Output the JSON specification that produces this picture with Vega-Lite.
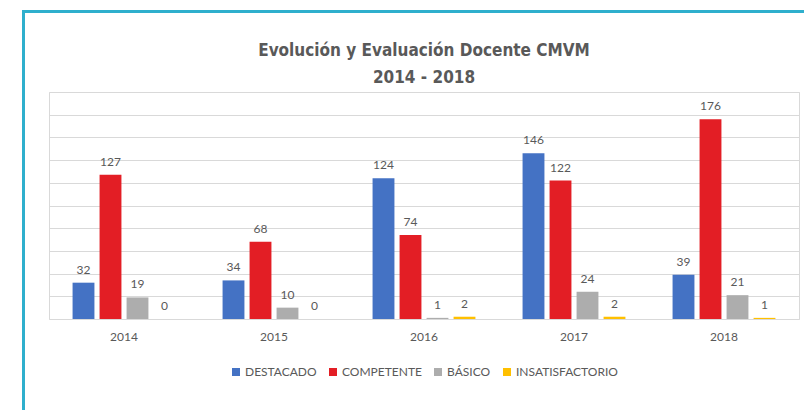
{
  "$schema": "https://vega.github.io/schema/vega-lite/v6.json",
  "padding": {"left": 22, "top": 10, "right": 0, "bottom": 0},
  "background": "white",
  "config": {
    "legend": {"layout": {"bottom": {"anchor": "middle"}}}
  },
  "spacing": 0,
  "resolve": {"scale": {"color": "independent"}, "legend": {"color": "independent"}},
  "vconcat": [
    {
      "width": 782,
      "height": 1,
      "data": {"values": []},
      "mark": "point",
      "encoding": {},
      "view": {"stroke": "#2FAFCD", "strokeWidth": 2}
    },
    {
      "spacing": 23,
      "resolve": {"scale": {"color": "independent"}, "legend": {"color": "independent"}},
      "hconcat": [
        {
          "width": 1,
          "height": 400,
          "data": {"values": []},
          "mark": "point",
          "encoding": {},
          "view": {"stroke": "#2FAFCD", "strokeWidth": 2}
        },
        {
          "spacing": 26,
          "resolve": {"scale": {"color": "independent"}, "legend": {"color": "independent"}},
          "vconcat": [
            {
              "width": 750,
              "height": 1,
              "data": {"values": []},
              "mark": "point",
              "encoding": {},
              "view": {"stroke": null}
            },
            {
              "width": 750,
              "height": 227,
              "view": {"stroke": "#D9D9D9", "strokeWidth": 1},
              "title": {
                "text": ["Evolución y Evaluación Docente CMVM", "2014 - 2018"],
                "font": "DejaVu Sans Condensed",
                "fontSize": 17,
                "fontWeight": "bold",
                "color": "#595959",
                "lineHeight": 27,
                "offset": 5,
                "anchor": "middle"
              },
              "data": {
                "values": [
                  {"year": "2014", "category": "DESTACADO", "value": 32},
                  {"year": "2014", "category": "COMPETENTE", "value": 127},
                  {"year": "2014", "category": "BÁSICO", "value": 19},
                  {"year": "2014", "category": "INSATISFACTORIO", "value": 0},
                  {"year": "2015", "category": "DESTACADO", "value": 34},
                  {"year": "2015", "category": "COMPETENTE", "value": 68},
                  {"year": "2015", "category": "BÁSICO", "value": 10},
                  {"year": "2015", "category": "INSATISFACTORIO", "value": 0},
                  {"year": "2016", "category": "DESTACADO", "value": 124},
                  {"year": "2016", "category": "COMPETENTE", "value": 74},
                  {"year": "2016", "category": "BÁSICO", "value": 1},
                  {"year": "2016", "category": "INSATISFACTORIO", "value": 2},
                  {"year": "2017", "category": "DESTACADO", "value": 146},
                  {"year": "2017", "category": "COMPETENTE", "value": 122},
                  {"year": "2017", "category": "BÁSICO", "value": 24},
                  {"year": "2017", "category": "INSATISFACTORIO", "value": 2},
                  {"year": "2018", "category": "DESTACADO", "value": 39},
                  {"year": "2018", "category": "COMPETENTE", "value": 176},
                  {"year": "2018", "category": "BÁSICO", "value": 21},
                  {"year": "2018", "category": "INSATISFACTORIO", "value": 1}
                ]
              },
              "encoding": {
                "x": {
                  "field": "year",
                  "type": "nominal",
                  "scale": {"paddingInner": 0.28, "paddingOuter": 0.14},
                  "axis": {
                    "title": null,
                    "labelAngle": 0,
                    "labelFont": "Lato",
                    "labelFontSize": 12,
                    "labelColor": "#595959",
                    "ticks": false,
                    "domain": false,
                    "labelPadding": 12
                  }
                },
                "xOffset": {
                  "field": "category",
                  "type": "nominal",
                  "sort": ["DESTACADO", "COMPETENTE", "BÁSICO", "INSATISFACTORIO"],
                  "scale": {"paddingInner": 0.19, "paddingOuter": 0.095}
                },
                "y": {
                  "field": "value",
                  "type": "quantitative",
                  "scale": {"domain": [0, 200], "nice": false},
                  "axis": {
                    "title": null,
                    "labels": false,
                    "ticks": false,
                    "domain": false,
                    "grid": true,
                    "gridColor": "#D9D9D9",
                    "gridWidth": 1,
                    "values": [0, 20, 40, 60, 80, 100, 120, 140, 160, 180, 200],
                    "minExtent": 0,
                    "maxExtent": 0
                  }
                }
              },
              "layer": [
                {
                  "mark": {"type": "bar"},
                  "encoding": {
                    "color": {
                      "field": "category",
                      "type": "nominal",
                      "sort": ["DESTACADO", "COMPETENTE", "BÁSICO", "INSATISFACTORIO"],
                      "scale": {
                        "domain": ["DESTACADO", "COMPETENTE", "BÁSICO", "INSATISFACTORIO"],
                        "range": ["#4472C4", "#E31E25", "#ADADAD", "#FFC000"]
                      },
                      "legend": {
                        "title": null,
                        "orient": "bottom",
                        "direction": "horizontal",
                        "symbolType": "square",
                        "symbolSize": 64,
                        "symbolStrokeWidth": 0,
                        "labelFont": "Lato",
                        "labelFontSize": 12,
                        "labelColor": "#595959",
                        "columnPadding": 10,
                        "labelOffset": 3,
                        "offset": 24
                      }
                    }
                  }
                },
                {
                  "mark": {
                    "type": "text",
                    "dy": -9,
                    "baseline": "alphabetic",
                    "font": "Lato",
                    "fontSize": 12,
                    "color": "#595959"
                  },
                  "encoding": {
                    "text": {"field": "value", "type": "quantitative"}
                  }
                }
              ]
            }
          ]
        }
      ]
    }
  ]
}
